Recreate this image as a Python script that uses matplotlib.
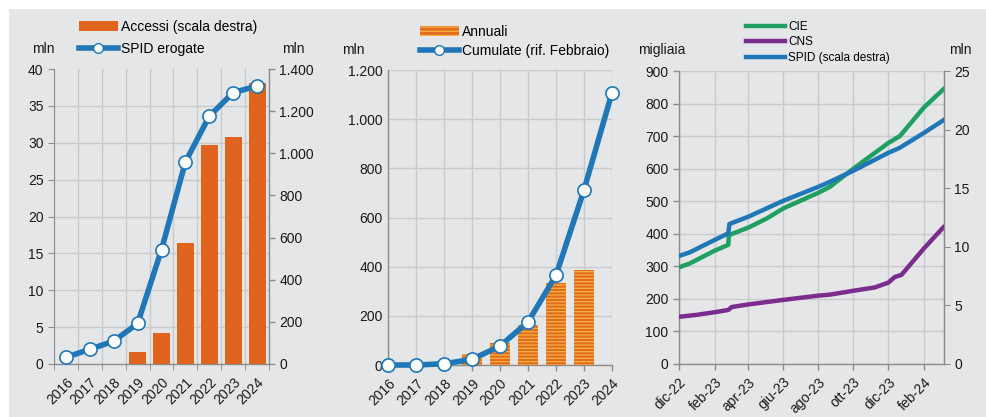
import numpy as np
import pandas as pd
import matplotlib
matplotlib.use("Agg")
import matplotlib.pyplot as plt
from matplotlib.patches import Rectangle, Patch
from matplotlib.lines import Line2D

plt.rcParams["font.family"] = ["Liberation Sans", "DejaVu Sans"]
plt.rcParams["font.size"] = 10
plt.rcParams["hatch.linewidth"] = 0.9

BG = "#e5e6e8"
GRID = "#c9cacc"
SPINE = "#8c8c8c"
TXT = "#1a1a1a"
ORANGE = "#e0641e"
BLUE = "#1f77b7"
GREEN = "#20a060"
PURPLE = "#7b2d8e"
HATCH_FACE = "#e46c22"
HATCH_LINE = "#f3b23c"

# pannello 1: identita' SPID erogate e accessi
years = ["2016", "2017", "2018", "2019", "2020", "2021", "2022", "2023", "2024"]
spid_erogate = [0.9, 2.0, 3.1, 5.5, 15.5, 27.4, 33.6, 36.8, 37.7]      # mln, scala sinistra
accessi = [0, 0, 0, 57, 145, 573, 1038, 1076, 1334]                    # mln, scala destra

# pannello 2: accessi annuali e cumulati
annuali = [0, 0, 3, 45, 91, 163, 332, 386, 0]
cumulate = [0, 0, 5, 23, 77, 175, 365, 712, 1108]

# pannello 3: CIE, CNS (migliaia) e SPID (mln)
cie_dates = ["2022-12-01", "2022-12-20", "2023-02-01", "2023-02-25", "2023-02-26",
             "2023-04-01", "2023-05-03", "2023-06-01", "2023-08-01", "2023-08-21",
             "2023-10-01", "2023-12-01", "2023-12-21", "2024-02-01", "2024-03-06"]
cie = [297, 309, 348, 366, 396, 419, 447, 478, 526, 544, 600, 679, 700, 788, 844]

cns_dates = ["2022-12-01", "2023-01-01", "2023-02-01", "2023-02-25", "2023-03-03",
             "2023-04-01", "2023-06-01", "2023-08-01", "2023-08-21", "2023-10-01",
             "2023-11-07", "2023-12-01", "2023-12-12", "2023-12-24", "2024-02-01",
             "2024-03-06"]
cns = [145, 151, 159, 166, 175, 183, 197, 210, 213, 225, 235, 250, 267, 274, 355, 420]

spid_dates = ["2022-12-01", "2022-12-20", "2023-02-01", "2023-02-25", "2023-02-27",
              "2023-04-01", "2023-06-01", "2023-08-01", "2023-08-15", "2023-10-01",
              "2023-12-01", "2023-12-21", "2024-02-01", "2024-03-06"]
spid = [9.22, 9.53, 10.58, 11.15, 11.95, 12.57, 13.93, 15.12, 15.41, 16.49,
        18.02, 18.45, 19.72, 20.80]

date_ticks = ["2022-12-01", "2023-02-01", "2023-04-01", "2023-06-01",
              "2023-08-01", "2023-10-01", "2023-12-01", "2024-02-01"]
date_labels = ["dic-22", "feb-23", "apr-23", "giu-23", "ago-23", "ott-23", "dic-23", "feb-24"]


def it_num(v, pos=None):
    return f"{int(v):,}".replace(",", ".")


def style(ax, right=False):
    ax.set_facecolor(BG)
    ax.spines["top"].set_visible(False)
    for s in ["left", "bottom", "right"]:
        ax.spines[s].set_color(SPINE)
        ax.spines[s].set_linewidth(1.0)
    if not right:
        ax.spines["right"].set_visible(False)
    ax.tick_params(colors=SPINE, labelcolor=TXT, length=3, width=1.0, labelsize=10)


fig = plt.figure(figsize=(9.86, 4.17), dpi=100)
fig.patch.set_facecolor("white")
fig.patches.append(Rectangle((9 / 986, 0), 1, 1 - 9 / 417, transform=fig.transFigure,
                             facecolor=BG, edgecolor="none", zorder=-10))

# ---------------- pannello 1 ----------------
x = np.arange(len(years))
axb = fig.add_axes([0.0548, 0.1271, 0.218, 0.7074])
style(axb, right=True)
axb.bar(x, accessi, width=0.71, color=ORANGE, zorder=3)
axb.set_ylim(0, 1400)
axb.set_xlim(-0.5, 8.5)
axb.set_yticks(np.arange(0, 1401, 200))
axb.yaxis.set_major_formatter(it_num)
axb.set_yticks(np.arange(0, 1401, 175), minor=True)
axb.grid(axis="y", which="minor", color=GRID, lw=1.0, zorder=0)
axb.set_xticks(x)
axb.set_xticklabels(years, rotation=45, ha="right", va="top", rotation_mode="anchor")
axb.tick_params(axis="x", which="major", length=0, pad=8)
axb.set_xticks(np.arange(-0.5, 9, 1), minor=True)
axb.tick_params(axis="x", which="minor", length=4, color=SPINE)
axb.grid(axis="x", which="minor", color=GRID, lw=1.0, zorder=0)
axb.set_axisbelow(True)

axl = axb.twinx()
axl.patch.set_visible(False)
for s in ["top", "right", "bottom"]:
    axl.spines[s].set_visible(False)
axl.spines["left"].set_visible(True)
axl.spines["left"].set_color(SPINE)
axl.yaxis.tick_left()
axl.tick_params(colors=SPINE, labelcolor=TXT, length=4, labelsize=10)
axl.plot(x, spid_erogate, color=BLUE, lw=4, marker="o", ms=9.5,
         mfc="white", mec=BLUE, mew=1.2, zorder=5)
axl.set_ylim(0, 40)
axl.set_yticks(np.arange(0, 41, 5))
# twinx sposta i tick dell'asse originale: riportali a destra
axb.yaxis.tick_right()
axb.spines["left"].set_visible(False)
axb.tick_params(axis="y", which="major", length=4, colors=SPINE, labelcolor=TXT)
axb.tick_params(axis="y", which="minor", length=0)

fig.text(43 / 986, 1 - 49 / 417, "mln", ha="center", va="center", color=TXT)
fig.text(293 / 986, 1 - 49 / 417, "mln", ha="center", va="center", color=TXT)
h1 = [Patch(facecolor=ORANGE, edgecolor="none"),
      Line2D([], [], color=BLUE, lw=4, marker="o", ms=7, mfc="white", mec=BLUE)]
fig.legend(h1, ["Accessi (scala destra)", "SPID erogate"], loc="upper left",
           bbox_to_anchor=(72 / 986, 1 - 13 / 417), frameon=False, fontsize=10,
           handlelength=2.8, handletextpad=0.2, labelspacing=0.55, borderpad=0)

# ---------------- pannello 2 ----------------
ax2 = fig.add_axes([0.3935, 0.1247, 0.2272, 0.7074])
style(ax2)
ax2.bar(x, annuali, width=0.72, color=HATCH_FACE, edgecolor=HATCH_LINE,
        hatch="-----", linewidth=0, zorder=3)
ax2.plot(x, cumulate, color=BLUE, lw=4, marker="o", ms=9.5,
         mfc="white", mec=BLUE, mew=1.2, zorder=5, clip_on=False)
ax2.set_xlim(0, 8)
ax2.set_ylim(0, 1200)
ax2.set_yticks(np.arange(0, 1201, 200))
ax2.yaxis.set_major_formatter(it_num)
ax2.set_xticks(x)
ax2.set_xticklabels(years, rotation=45, ha="right", va="top", rotation_mode="anchor")
ax2.tick_params(axis="x", length=4, pad=4)
ax2.tick_params(axis="y", length=0, pad=4)
ax2.grid(color=GRID, lw=1.0, zorder=0)
ax2.set_axisbelow(True)

fig.text(353 / 986, 1 - 50 / 417, "mln", ha="center", va="center", color=TXT)
h2 = [Patch(facecolor=HATCH_FACE, edgecolor=HATCH_LINE, hatch="----", linewidth=0),
      Line2D([], [], color=BLUE, lw=4, marker="o", ms=7, mfc="white", mec=BLUE)]
fig.legend(h2, ["Annuali", "Cumulate (rif. Febbraio)"], loc="upper left",
           bbox_to_anchor=(413 / 986, 1 - 18 / 417), frameon=False, fontsize=10,
           handlelength=2.8, handletextpad=0.2, labelspacing=0.35, borderpad=0)

# ---------------- pannello 3 ----------------
ax3 = fig.add_axes([0.6886, 0.1271, 0.2688, 0.7026])
style(ax3, right=True)
ax3.plot(pd.to_datetime(cie_dates), cie, color=GREEN, lw=3.2, zorder=4)
ax3.plot(pd.to_datetime(cns_dates), cns, color=PURPLE, lw=3.2, zorder=4)
ax3.set_ylim(0, 900)
ax3.set_yticks(np.arange(0, 901, 100))
ax3.set_xlim(pd.Timestamp("2022-12-01"), pd.Timestamp("2024-03-07"))
ax3.set_xticks(pd.to_datetime(date_ticks))
ax3.set_xticklabels(date_labels, rotation=45, ha="right", va="top", rotation_mode="anchor")
ax3.tick_params(axis="x", length=4, pad=4)
ax3.tick_params(axis="y", length=4)
ax3.grid(color=GRID, lw=1.0, zorder=0)
ax3.set_axisbelow(True)

ax3r = ax3.twinx()
ax3r.patch.set_visible(False)
for s in ["top", "left", "bottom"]:
    ax3r.spines[s].set_visible(False)
ax3r.spines["right"].set_color(SPINE)
ax3r.tick_params(colors=SPINE, labelcolor=TXT, length=4, labelsize=10)
ax3r.plot(pd.to_datetime(spid_dates), spid, color=BLUE, lw=3.2, zorder=4)
ax3r.set_ylim(0, 25)
ax3r.set_yticks(np.arange(0, 26, 5))

fig.text(662 / 986, 1 - 50 / 417, "migliaia", ha="center", va="center", color=TXT)
fig.text(960 / 986, 1 - 50 / 417, "mln", ha="center", va="center", color=TXT)
h3 = [Line2D([], [], color=GREEN, lw=3.2), Line2D([], [], color=PURPLE, lw=3.2),
      Line2D([], [], color=BLUE, lw=3.2)]
fig.legend(h3, ["CIE", "CNS", "SPID (scala destra)"], loc="upper left",
           bbox_to_anchor=(740 / 986, 1 - 15 / 417), frameon=False, fontsize=8.5,
           handlelength=3.3, handletextpad=0.3, labelspacing=0.3, borderpad=0)

fig.savefig("out.png", dpi=100, facecolor=fig.get_facecolor())
